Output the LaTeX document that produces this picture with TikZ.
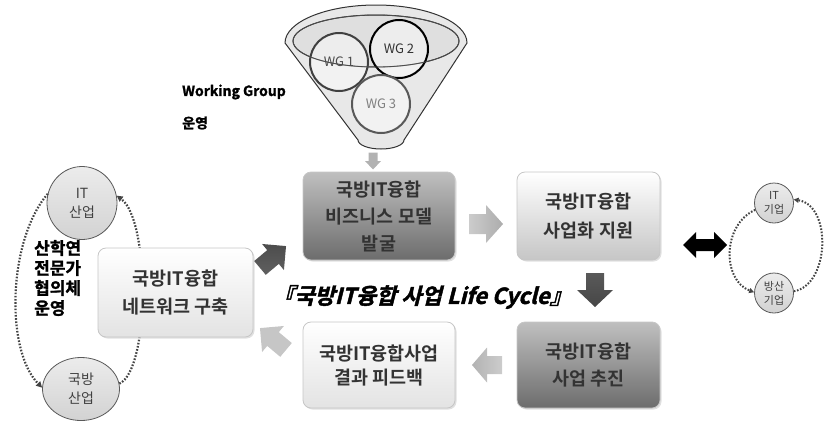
\documentclass[tikz,border=0pt]{standalone}
\usepackage{fontspec}
\setmainfont{Noto Sans CJK KR}[BoldFont={Noto Sans CJK KR Bold}]
\newfontfamily\titlefont{Noto Sans CJK KR Bold}[FakeSlant=0.25,FakeBold=2]
\newfontfamily\heavyfont{Noto Sans CJK KR Bold}[FakeBold=1.5]
\usetikzlibrary{arrows.meta,shadows,shapes.geometric}
\definecolor{txtdark}{HTML}{333333}
\definecolor{lineg}{HTML}{444444}
\newcommand{\blkarrow}[7]{%
  \path[#1, shift={(#2,#3)}, rotate=#4]
    ({-#5/2},{-#7}) -- ({#5/2-#5*0.5},{-#7}) -- ({#5/2-#5*0.5},{-#6}) -- ({#5/2},0)
    -- ({#5/2-#5*0.5},{#6}) -- ({#5/2-#5*0.5},{#7}) -- ({-#5/2},{#7}) -- cycle;}
\begin{document}
\begin{tikzpicture}[x=1pt,y=-1pt,
  boxbase/.style={rounded corners=8pt, draw=gray!45, line width=0.8pt, align=center,
    font=\bfseries\fontsize{18.5}{27}\selectfont, text=txtdark, inner sep=0pt,
    drop shadow={shadow xshift=1.5pt, shadow yshift=-1.5pt, fill=gray!40, opacity=.6}},
  darkbox/.style={boxbase, top color=gray!50, bottom color=gray!85!black!100},
  lightbox/.style={boxbase, top color=white, bottom color=gray!45},
  paleb/.style={boxbase, top color=white, bottom color=gray!22},
  wgcirc/.style={circle, minimum size=58pt, inner sep=0pt, line width=2pt, fill=white, fill opacity=.45, text opacity=1,
    font=\fontsize{13}{15}\selectfont},
  indcirc/.style={ellipse, draw=gray!70!black, line width=0.8pt, top color=gray!15, bottom color=gray!35, align=center,
    inner sep=0pt, text=gray!50!black},
  dotarc/.style={draw=lineg, line width=2.2pt, dash pattern=on 1.6pt off 1.6pt, -{Triangle[length=6pt,width=6pt]}},
]
\useasboundingbox (0,0) rectangle (826,421);
% funnel
\path[fill=gray!18, draw=gray!40!black, line width=1pt]
  (285,43) arc[start angle=180, end angle=360, x radius=91, y radius=38]
  -- (404,140) arc[start angle=0, end angle=180, x radius=23, y radius=9] -- cycle;
\path[fill=gray!25, draw=black!80, line width=1pt] (376,41) ellipse[x radius=83, y radius=26];
\node[wgcirc, draw=black!75, text=black!70] (wg1) at (339,62) {WG 1};
\node[wgcirc, draw=black, text=black!80] (wg2) at (399,49) {WG 2};
\node[wgcirc, draw=gray!70!black, text=gray] (wg3) at (381,104) {WG 3};
\draw[black!70, line width=0.8pt] (376,41) ellipse[x radius=83, y radius=26];
\node[anchor=west, font=\heavyfont\fontsize{14}{16}\selectfont, inner sep=0pt] (wgtxt) at (182,92) {Working Group};
\node[anchor=west, font=\heavyfont\fontsize{14}{16}\selectfont, inner sep=0pt] (wgtxt2) at (182,123) {운영};
\blkarrow{fill=gray!60}{373}{161}{-90}{17}{8}{4.5}

% left industry circles and dotted arcs
\node[indcirc, minimum width=70pt, minimum height=73pt, font=\fontsize{14}{19}\selectfont] (itind) at (82,203) {IT\\산업};
\node[indcirc, minimum width=77pt, minimum height=63pt, font=\fontsize{14}{19}\selectfont] (defind) at (81,389) {국방\\산업};
\draw[dotarc] (itind.165) .. controls (8,240) and (5,350) .. (defind.178);
\draw[dotarc] (defind.8) .. controls (150,370) and (150,220) .. (itind.12);

% right company circles
\node[indcirc, minimum width=39pt, minimum height=40pt, font=\fontsize{11}{14}\selectfont] (itco) at (774,203) {IT\\기업};
\node[indcirc, minimum width=39pt, minimum height=40pt, font=\fontsize{11}{14}\selectfont] (defco) at (774,293) {방산\\기업};
\draw[dotarc, line width=2pt, -{Triangle[length=5pt,width=5pt]}] (itco.200) .. controls (722,225) and (722,280) .. (defco.178);
\draw[dotarc, line width=2pt, -{Triangle[length=5pt,width=5pt]}] (defco.5) .. controls (830,285) and (832,205) .. (itco.10);

% boxes
\node[darkbox, minimum width=152pt, minimum height=88pt] (b1) at (379,216) {국방IT융합\\비즈니스 모델\\발굴};
\node[lightbox, minimum width=143pt, minimum height=88pt, font=\bfseries\fontsize{18.5}{29}\selectfont] (b2) at (588.5,216) {국방IT융합\\사업화 지원};
\node[darkbox, minimum width=143pt, minimum height=86pt, font=\bfseries\fontsize{18.5}{27}\selectfont] (b3) at (588.5,365) {국방IT융합\\사업 추진};
\node[paleb, minimum width=152pt, minimum height=86pt, font=\bfseries\fontsize{18.5}{24}\selectfont] (b4) at (379,365) {국방IT융합사업\\결과 피드백};
\node[paleb, minimum width=155pt, minimum height=89pt, font=\bfseries\fontsize{18.5}{28}\selectfont] (b5) at (175.5,292.5) {국방IT융합\\네트워크 구축};

\node[anchor=west, align=left, inner sep=0pt, font=\heavyfont\fontsize{17}{20}\selectfont] (council) at (34,278) {산학연\\전문가\\협의체\\운영};

% block arrows
\blkarrow{left color=gray!40, right color=gray!65}{486}{224}{0}{34}{19}{10}
\blkarrow{top color=gray!70!black, bottom color=gray!55!black}{595}{290}{-90}{34}{18}{9}
\blkarrow{left color=gray!60, right color=gray!40}{487}{365}{180}{30}{17.5}{9}
\blkarrow{fill=gray!45}{273}{339}{140}{34}{17}{9}
\blkarrow{top color=gray!60!black, bottom color=gray!75!black}{273}{257}{40}{34}{17}{9}
% double arrow
\path[fill=black, shift={(705,245)}] (-22,0) -- (-9,-13) -- (-9,-6) -- (9,-6) -- (9,-13) -- (22,0)
  -- (9,13) -- (9,6) -- (-9,6) -- (-9,13) -- cycle;

% title
\node[font=\titlefont\fontsize{22}{24}\selectfont, inner sep=0pt] (title) at (422,297) {『국방IT융합 사업 Life Cycle』};
\end{tikzpicture}
\end{document}
